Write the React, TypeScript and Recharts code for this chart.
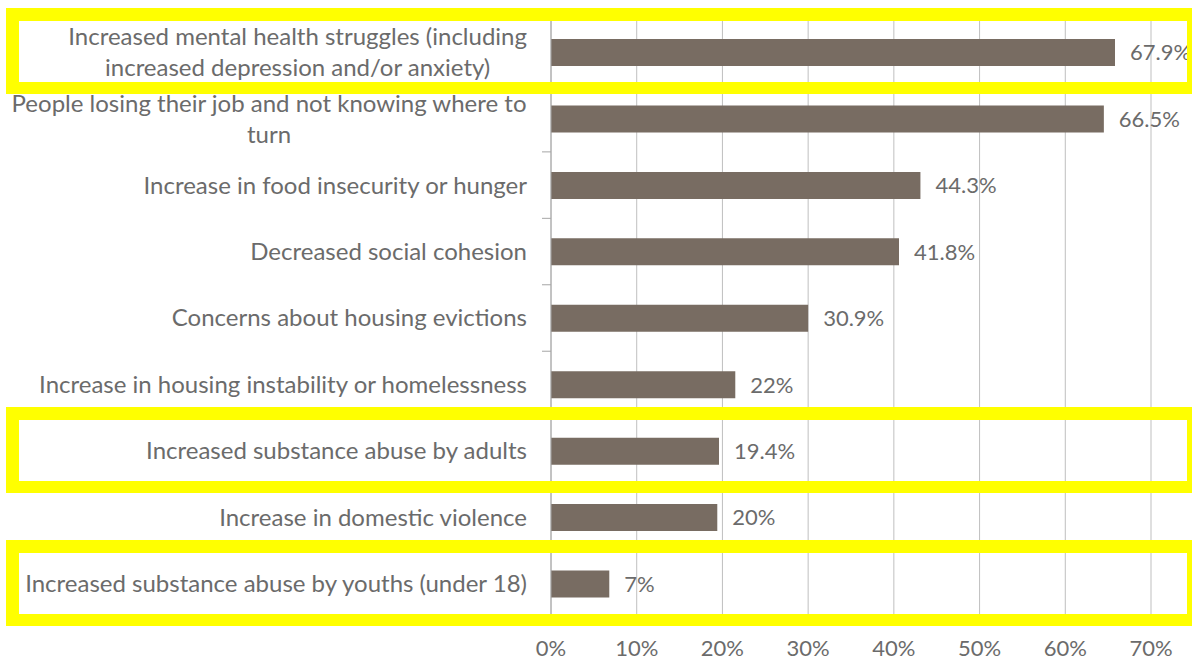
import { Bar, BarChart, CartesianGrid, LabelList, XAxis, YAxis } from 'recharts';

// category labels, top to bottom ("\n" = line break as in the picture)
const categories = [
	'Increased mental health struggles (including\nincreased depression and/or anxiety)',
	'People losing their job and not knowing where to\nturn',
	'Increase in food insecurity or hunger',
	'Decreased social cohesion',
	'Concerns about housing evictions',
	'Increase in housing instability or homelessness',
	'Increased substance abuse by adults',
	'Increase in domestic violence',
	'Increased substance abuse by youths (under 18)',
];

// bar lengths as drawn in the picture (percent)
const barValues = [65.8, 64.5, 43.1, 40.6, 30.0, 21.5, 19.6, 19.4, 6.8];

// value labels as printed next to the bars
const valueLabels = ['67.9%', '66.5%', '44.3%', '41.8%', '30.9%', '22%', '19.4%', '20%', '7%'];

const xTicks = [0, 10, 20, 30, 40, 50, 60, 70];

// rows that are boxed in yellow
const highlighted = [0, 6, 8];

const data = categories.map((name, i) => ({
	name,
	value: barValues[i],
	label: valueLabels[i],
}));

const FONT = 'Lato, "Open Sans", sans-serif';
const TEXT = '#6b6b6b';
const FONT_SIZE = 22;
const CAT_SIZE = 24;
const AXIS = '#a6a6a6';

const W = 1194;
const H = 663;
const TOP = 19;
const PLOT_BOTTOM = 617;
const BAND = (PLOT_BOTTOM - TOP) / categories.length;

let ctx: CanvasRenderingContext2D | null = null;
function measure(s: string) {
	if (!ctx) {
		ctx = document.createElement('canvas').getContext('2d');
	}
	if (!ctx) return s.length * 11;
	ctx.font = `${CAT_SIZE}px Lato`;
	return ctx.measureText(s).width;
}

function CategoryTick(props: any) {
	const { x, y, payload, index } = props;
	const lines = String(payload.value).split('\n');
	const right = x - 16;
	const lh = 31;
	// Excel-style tick marks sit on the row boundaries
	const marks = [y - BAND / 2];
	if (index === categories.length - 1) marks.push(y + BAND / 2);
	const ticks = marks.map((ty, i) => (
		<line key={'t' + i} x1={x - 1} x2={x + 8} y1={ty} y2={ty} stroke={AXIS} />
	));
	if (lines.length === 1) {
		return (
			<g>
				{ticks}
				<text x={right} y={y} dy="0.35em" textAnchor="end" fill={TEXT} fontSize={CAT_SIZE} fontFamily={FONT}>
					{lines[0]}
				</text>
			</g>
		);
	}
	const w = Math.max(...lines.map(measure));
	const cx = right - w / 2;
	return (
		<g>
			{ticks}
			<text textAnchor="middle" fill={TEXT} fontSize={CAT_SIZE} fontFamily={FONT}>
				{lines.map((l, i) => (
					<tspan key={i} x={cx} y={y + (i - (lines.length - 1) / 2) * lh} dy="0.35em">
						{l}
					</tspan>
				))}
			</text>
		</g>
	);
}

export default function App() {
	return (
		<div style={{ position: 'absolute', left: 0, top: 0, width: W, height: H, background: '#fff' }}>
			<BarChart
				width={W}
				height={H}
				data={data}
				layout="vertical"
				barSize={27}
				margin={{ top: TOP, right: 43, left: 0, bottom: 0 }}
			>
				<CartesianGrid horizontal={false} stroke="#bfbfbf" />
				<XAxis
					type="number"
					domain={[0, 70]}
					ticks={xTicks}
					tickFormatter={(v: number) => `${v}%`}
					axisLine={false}
					tickLine={false}
					height={H - PLOT_BOTTOM}
					tickMargin={17}
					tick={{ fill: TEXT, fontSize: FONT_SIZE, fontFamily: FONT }}
				/>
				<YAxis
					type="category"
					dataKey="name"
					width={551}
					axisLine={{ stroke: AXIS }}
					tickLine={false}
					interval={0}
					tick={<CategoryTick />}
				/>
				<Bar dataKey="value" fill="#786c62" isAnimationActive={false}>
					<LabelList
						dataKey="label"
						position="right"
						offset={15}
						fill={TEXT}
						fontSize={FONT_SIZE}
						fontFamily={FONT}
					/>
				</Bar>
			</BarChart>
			{highlighted.map((row) => {
				const cy = TOP + (row + 0.5) * BAND;
				return (
					<div
						key={row}
						style={{
							position: 'absolute',
							left: 6,
							top: cy - 44,
							width: 1186,
							height: 86,
							boxSizing: 'border-box',
							borderStyle: 'solid',
							borderColor: '#ffff00',
							borderWidth: '13px 5px 12px 13px',
							pointerEvents: 'none',
						}}
					/>
				);
			})}
		</div>
	);
}
